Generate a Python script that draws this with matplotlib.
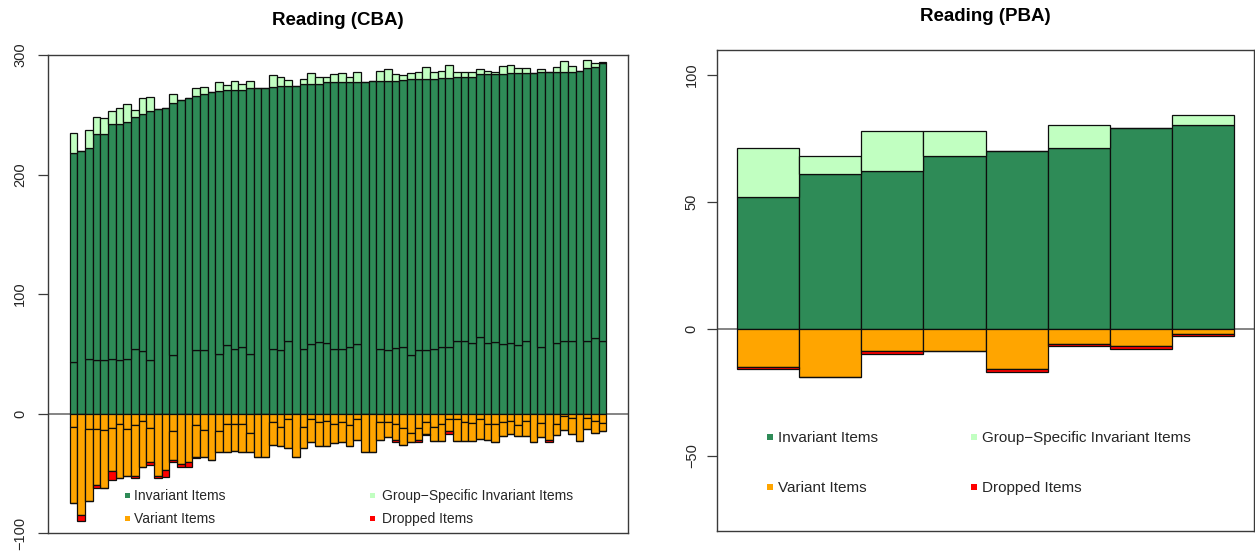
import numpy as np
import matplotlib
matplotlib.use("Agg")
import matplotlib.pyplot as plt
from matplotlib.patches import Rectangle

plt.rcParams['font.family'] = ['Liberation Sans', 'DejaVu Sans']

# ---- Reading (CBA): 70 groups -------------------------------------------
cba_inv_lower = [43, 0, 46, 45, 45, 46, 45, 46, 54, 52,
                 45, 0, 0, 49, 0, 0, 53, 53, 0, 50,
                 57, 54, 56, 50, 0, 0, 54, 53, 61, 0,
                 54, 58, 60, 59, 54, 54, 56, 58, 0, 0,
                 54, 53, 55, 56, 49, 53, 53, 54, 56, 56,
                 61, 61, 59, 64, 59, 60, 58, 59, 57, 61,
                 0, 56, 0, 59, 61, 61, 0, 61, 63, 61]
cba_inv_total = [218, 220, 222, 234, 234, 242, 242, 244, 248, 251,
                 253, 255, 256, 260, 262, 264, 266, 267, 269, 270,
                 271, 271, 271, 272, 272, 272, 273, 274, 274, 274,
                 276, 276, 276, 277, 277, 277, 277, 277, 277, 278,
                 278, 278, 278, 279, 280, 280, 280, 280, 281, 281,
                 282, 282, 282, 284, 284, 284, 284, 285, 285, 285,
                 285, 286, 286, 286, 286, 286, 287, 289, 290, 293]
cba_group_specific = [17, 0, 15, 14, 13, 11, 14, 15, 6, 13,
                      12, 0, 0, 7, 0, 0, 6, 6, 0, 7,
                      4, 7, 5, 6, 0, 0, 10, 8, 5, 0,
                      4, 9, 6, 5, 7, 8, 5, 9, 0, 0,
                      9, 10, 6, 4, 5, 6, 10, 6, 6, 11,
                      4, 4, 4, 4, 3, 2, 7, 7, 4, 4,
                      0, 2, 0, 4, 9, 5, 0, 7, 3, 1]
cba_var_upper = [11, 0, 13, 13, 14, 12, 9, 13, 10, 6,
                 12, 0, 0, 15, 0, 0, 10, 14, 0, 15,
                 9, 9, 9, 16, 0, 0, 7, 11, 5, 0,
                 11, 5, 7, 6, 9, 7, 10, 5, 0, 0,
                 7, 7, 9, 12, 16, 12, 7, 11, 9, 5,
                 5, 7, 8, 5, 9, 9, 7, 6, 10, 6,
                 0, 8, 0, 9, 2, 4, 0, 4, 6, 8]
cba_var_total = [75, 85, 73, 60, 62, 48, 54, 52, 52, 45,
                 41, 52, 47, 39, 42, 41, 36, 36, 39, 32,
                 32, 31, 32, 32, 36, 36, 26, 27, 29, 36,
                 29, 24, 27, 27, 25, 24, 27, 22, 32, 32,
                 22, 20, 22, 26, 24, 22, 17, 23, 23, 15,
                 23, 23, 23, 21, 22, 24, 19, 17, 19, 19,
                 24, 20, 22, 18, 14, 17, 23, 13, 16, 15]
cba_dropped = [0, 5, 0, 2, 0, 8, 0, 0, 2, 0,
               2, 2, 6, 1.5, 2.5, 3.5, 1, 0, 0, 0,
               0, 0, 0, 0, 0, 0, 0, 0, 0, 0,
               0, 0, 0, 0, 0, 0, 0, 0, 0, 0,
               0, 0, 2, 0, 0, 2, 1, 0, 0, 2,
               0, 0, 0, 0, 0, 0, 0, 0, 0, 0,
               0, 0, 2, 0, 0, 0, 0, 0, 0, 0]

# ---- Reading (PBA): 8 groups --------------------------------------------
pba_inv_total = [52, 61, 62, 68, 70, 71, 79, 80]
pba_group_specific = [19, 7, 16, 10, 0, 9, 0, 4]
pba_var_total = [15, 19, 9, 9, 16, 6, 7, 2]
pba_dropped = [1, 0, 1, 0, 1, 1, 1, 1]

series_labels = ["Invariant Items", "Group\u2212Specific Invariant Items",
                 "Variant Items", "Dropped Items"]
series_colors = ["#2E8B57", "#C1FFC1", "#FFA500", "#FF0000"]
GREEN, LIGHT, ORANGE, RED = series_colors

W, H = 1255, 553
fig = plt.figure(figsize=(W / 100, H / 100), dpi=100)

EDGE = dict(edgecolor="#0d0d0d", linewidth=0.9, width=1.0, align="edge")
TEXT_COL = "#262626"


def px_rect(x0, y_top, x1, y_bottom):
    return [x0 / W, (H - y_bottom) / H, (x1 - x0) / W, (y_bottom - y_top) / H]


def style_axes(ax, ticks, pad):
    for s in ax.spines.values():
        s.set_color("#3a3a3a")
        s.set_linewidth(1.0)
    ax.set_xticks([])
    ax.set_yticks(ticks)
    ax.set_yticklabels([f"{t:g}".replace("-", "\u2212") for t in ticks],
                       rotation=90, va="center", fontsize=10.5, color=TEXT_COL)
    ax.tick_params(axis="y", length=7.3, width=0.9, color="#3a3a3a", pad=pad)
    ax.axhline(0, color="#707070", linewidth=1.2, zorder=0.5)


def legend_block(entries, fs, size):
    cap = 0.716 * fs * 100 / 72
    for (xm, ym, xt, label, color) in entries:
        fig.add_artist(Rectangle(((xm - size / 2) / W, (H - ym - size / 2) / H),
                                 size / W, size / H, transform=fig.transFigure,
                                 facecolor=color, edgecolor="none"))
        fig.text(xt / W, (H - ym - cap / 2) / H, label, fontsize=fs,
                 va="baseline", ha="left", color=TEXT_COL)


# ---- left panel ---------------------------------------------------------
axl = fig.add_axes(px_rect(48.3, 55, 627.7, 533))
n = len(cba_inv_total)
x = np.arange(n)
inv_lower = np.array(cba_inv_lower, float)
inv_total = np.array(cba_inv_total, float)
gs = np.array(cba_group_specific, float)
var_upper = np.array(cba_var_upper, float)
var_total = np.array(cba_var_total, float)
dropped = np.array(cba_dropped, float)

axl.bar(x, inv_lower, bottom=0, color=GREEN, **EDGE)
axl.bar(x, inv_total - inv_lower, bottom=inv_lower, color=GREEN, **EDGE)
axl.bar(x, gs, bottom=inv_total, color=LIGHT, **EDGE)
axl.bar(x, -var_upper, bottom=0, color=ORANGE, **EDGE)
axl.bar(x, -(var_total - var_upper), bottom=-var_upper, color=ORANGE, **EDGE)
axl.bar(x, -dropped, bottom=-var_total, color=RED, **EDGE)
axl.set_xlim(-0.04 * n, n * 1.04)
axl.set_ylim(-100, 300)
style_axes(axl, [-100, 0, 100, 200, 300], pad=8)

fig.text(338 / W, (H - 25) / H, "Reading (CBA)", ha="center", va="baseline",
         fontsize=13.5, fontweight="bold", color="black")

legend_block([
    (127, 495.5, 134.5, series_labels[0], GREEN),
    (372, 495.5, 381.5, series_labels[1], LIGHT),
    (127, 518.3, 134.5, series_labels[2], ORANGE),
    (372, 518.3, 381.5, series_labels[3], RED),
], fs=10, size=5)

# ---- right panel --------------------------------------------------------
axr = fig.add_axes(px_rect(717.3, 50, 1253.7, 531))
m = len(pba_inv_total)
xr = np.arange(m)
p_inv = np.array(pba_inv_total, float)
p_gs = np.array(pba_group_specific, float)
p_var = np.array(pba_var_total, float)
p_drop = np.array(pba_dropped, float)

axr.bar(xr, p_inv, bottom=0, color=GREEN, **EDGE)
axr.bar(xr, p_gs, bottom=p_inv, color=LIGHT, **EDGE)
axr.bar(xr, -p_var, bottom=0, color=ORANGE, **EDGE)
axr.bar(xr, -p_drop, bottom=-p_var, color=RED, **EDGE)
axr.set_xlim(-0.04 * m, m * 1.04)
axr.set_ylim(-79.7, 109.7)
style_axes(axr, [-50, 0, 50, 100], pad=6)

fig.text(985.5 / W, (H - 21) / H, "Reading (PBA)", ha="center", va="baseline",
         fontsize=13.5, fontweight="bold", color="black")

legend_block([
    (769.7, 436.7, 778.5, series_labels[0], GREEN),
    (973.7, 436.7, 982.5, series_labels[1], LIGHT),
    (769.7, 486.8, 778.5, series_labels[2], ORANGE),
    (973.7, 486.8, 982.5, series_labels[3], RED),
], fs=11, size=6)

fig.savefig("out.png", dpi=100, facecolor="white")
